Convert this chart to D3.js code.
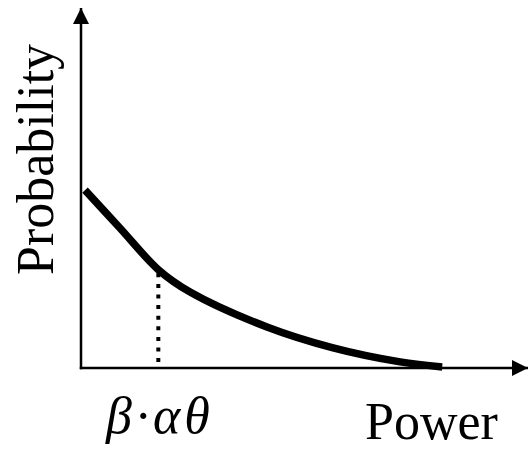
<!DOCTYPE html>
<html>
<head>
<meta charset="utf-8">
<script src="https://cdn.jsdelivr.net/npm/d3@7"></script>
<style>
  body { margin: 0; background: #fff; }
</style>
</head>
<body>
<svg></svg>
<script>
const width = 529;
const height = 449;
const serif = '"Liberation Serif", "Times New Roman", Times, "DejaVu Serif", serif';

// curve (x in 0..100 of the power axis, y in 0..100 of probability axis)
const powerValues = [0.9, 8.7, 17.4, 24.4, 41.6, 56.4, 71.4, 80.8];
const probValues = [49.4, 38.9, 27.2, 21.1, 11.4, 5.6, 1.7, 0.3];
const markerX = 17.3;
const markerTop = 26.3;
const markerBottom = 1.6;
const labels = { y: 'Probability', x: 'Power', marker: 'β·αθ' };

const svg = d3.select('svg')
    .attr('width', width)
    .attr('height', height);

const x = d3.scaleLinear().domain([0, 100]).range([81, 528]);
const y = d3.scaleLinear().domain([0, 100]).range([368, 8]);

const defs = svg.append('defs');
defs.append('marker')
    .attr('id', 'arrow')
    .attr('viewBox', '0 0 10 10')
    .attr('refX', 10)
    .attr('refY', 5)
    .attr('markerWidth', 6.5)
    .attr('markerHeight', 6.5)
    .attr('markerUnits', 'strokeWidth')
    .attr('orient', 'auto')
    .append('path')
    .attr('d', 'M0,0L10,5L0,10z')
    .attr('fill', '#000');

// axes without ticks, just the domain line with arrowheads
const xAxis = svg.append('g')
    .attr('transform', `translate(0, ${y(0)})`)
    .call(d3.axisBottom(x).ticks(0).tickSize(0).tickSizeOuter(0));
const yAxis = svg.append('g')
    .attr('transform', `translate(${x(0)}, 0)`)
    .call(d3.axisLeft(y).ticks(0).tickSize(0).tickSizeOuter(0));

xAxis.select('.domain')
    .attr('d', `M${x(0) - 1.2},0H${x(100)}`)
    .attr('stroke-width', 2.5)
    .attr('marker-end', 'url(#arrow)');
yAxis.select('.domain')
    .attr('d', `M0,${y(0) + 1.2}V${y(100)}`)
    .attr('stroke-width', 2.5)
    .attr('marker-end', 'url(#arrow)');

// dotted drop line
svg.append('line')
    .attr('x1', x(markerX))
    .attr('x2', x(markerX))
    .attr('y1', y(markerTop))
    .attr('y2', y(markerBottom))
    .attr('stroke', '#000')
    .attr('stroke-width', 4)
    .attr('stroke-dasharray', '4,6.6');

const line = d3.line()
    .x((d, i) => x(powerValues[i]))
    .y(d => y(d))
    .curve(d3.curveCatmullRom.alpha(0.5));

svg.append('path')
    .datum(probValues)
    .attr('d', line)
    .attr('fill', 'none')
    .attr('stroke', '#000')
    .attr('stroke-width', 7.5);

svg.append('text')
    .attr('transform', `translate(53, 275) rotate(-90)`)
    .attr('font-family', serif)
    .attr('font-size', 52)
    .text(labels.y);

svg.append('text')
    .attr('x', 365)
    .attr('y', 439)
    .attr('font-family', serif)
    .attr('font-size', 52)
    .text(labels.x);

svg.append('text')
    .attr('x', 106)
    .attr('y', 433)
    .attr('font-family', serif)
    .attr('font-size', 52)
    .attr('font-style', 'italic')
    .attr('letter-spacing', 4)
    .text(labels.marker);
</script>
</body>
</html>
